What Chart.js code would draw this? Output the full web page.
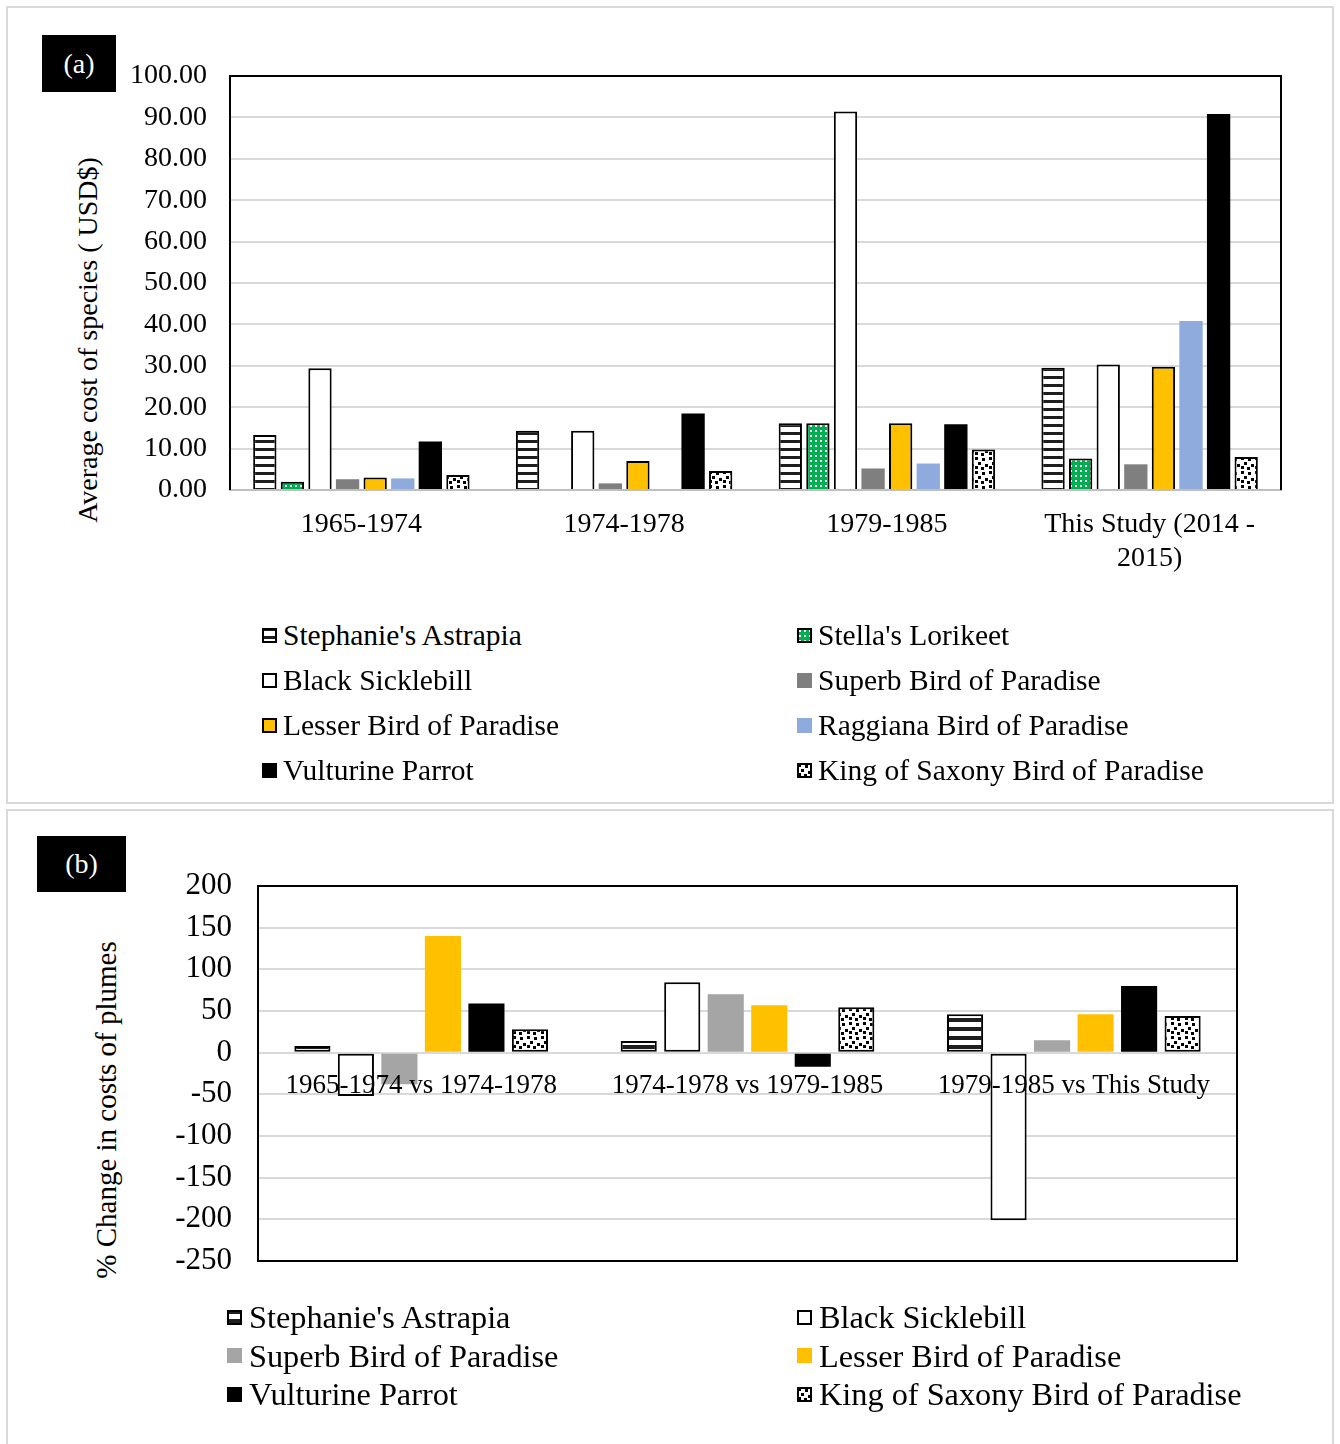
<!DOCTYPE html>
<html>
<head>
<meta charset="utf-8">
<script src="https://cdn.jsdelivr.net/npm/chart.js@4.4.1/dist/chart.umd.min.js"></script>
<style>
  body { margin: 0; background: #fff; font-family: 'Liberation Serif', 'Times New Roman', serif; color: #000; }
  #page { position: relative; width: 1340px; height: 1444px; overflow: hidden; }
  .panel { position: absolute; border: 2px solid #d9d9d9; box-sizing: border-box; }
  .tag { position: absolute; background: #000; color: #fff; display: flex; align-items: center; justify-content: center; }
  .ytitle { position: absolute; white-space: nowrap; transform: translate(-50%, -50%) rotate(-90deg); }
  canvas.chart { position: absolute; }
  .legend { position: absolute; display: grid; }
  .item { display: flex; align-items: center; white-space: nowrap; }
</style>
</head>
<body>
<div id="page">
  <div class="panel" style="left:6px;top:6px;width:1328px;height:798px;"></div>
  <div class="panel" style="left:6px;top:809px;width:1328px;height:650px;"></div>

  <div class="tag" style="left:42px;top:35px;width:74px;height:57px;font-size:28px;">(a)</div>
  <div class="tag" style="left:37px;top:836px;width:89px;height:56px;font-size:28px;">(b)</div>

  <div class="ytitle" style="left:88px;top:340px;font-size:28px;">Average cost of species ( USD$)</div>
  <div class="ytitle" style="left:106px;top:1110px;font-size:29px;">% Change in costs of plumes</div>

  <canvas id="costChart" class="chart" width="1324" height="600" style="left:8px;top:8px;"></canvas>
  <canvas id="changeChart" class="chart" width="1324" height="500" style="left:8px;top:811px;"></canvas>

  <div id="costLegend" class="legend" style="left:262px;top:613px;grid-template-columns:535px auto;font-size:29.5px;line-height:45px;"></div>
  <div id="changeLegend" class="legend" style="left:227px;top:1298px;grid-template-columns:570px auto;font-size:32.3px;line-height:38.5px;"></div>
</div>

<script>
// --- DATA: panel (a), average cost per period (USD$) ---
const periods = ['1965-1974', '1974-1978', '1979-1985', ['This Study (2014 -', '2015)']];
const costAstrapia   = [13.3, 14.3, 16.1, 29.5];
const costLorikeet   = [2.0, 0, 16.1, 7.6];
const costSicklebill = [29.4, 14.3, 91.4, 30.3];
const costSuperb     = [2.6, 1.6, 5.2, 6.2];
const costLesser     = [3.0, 7.0, 16.1, 29.8];
const costRaggiana   = [2.8, 0, 6.4, 40.8];
const costVulturine  = [11.7, 18.5, 15.9, 90.8];
const costKingSaxony = [3.6, 4.6, 9.8, 8.0];

// --- DATA: panel (b), % change between periods ---
const comparisons = ['1965-1974 vs 1974-1978', '1974-1978 vs 1979-1985', '1979-1985 vs This Study'];
const changeAstrapia   = [8, 14, 46];
const changeSicklebill = [-52, 84.5, -201];
const changeSuperb     = [-38, 70, 15];
const changeLesser     = [140, 57, 46];
const changeVulturine  = [59, -17, 80];
const changeKingSaxony = [28, 54.5, 44];

const SERIF = "'Liberation Serif', 'Times New Roman', serif";

// --- PATTERNS ---
function makeTile(w, h, draw) {
    const c = document.createElement('canvas');
    c.width = w; c.height = h;
    draw(c.getContext('2d'));
    return c;
}
function toPattern(tile) {
    return document.createElement('canvas').getContext('2d').createPattern(tile, 'repeat');
}
function stripes(period, dark) {
    return toPattern(makeTile(4, period, g => {
        g.fillStyle = '#fff'; g.fillRect(0, 0, 4, period);
        g.fillStyle = '#1e1e1e'; g.fillRect(0, 0, 4, dark);
    }));
}
const greenDots = toPattern(makeTile(5, 5, g => {
    g.fillStyle = '#00b050'; g.fillRect(0, 0, 5, 5);
    g.fillStyle = '#fff'; g.fillRect(2, 2, 2, 2);
}));
const blackSpeckle = toPattern(makeTile(14, 14, g => {
    g.fillStyle = '#fff'; g.fillRect(0, 0, 14, 14);
    g.fillStyle = '#000';
    [[1, 1], [8, 2], [4, 6], [11, 8], [1, 10], [7, 11]].forEach(p => g.fillRect(p[0], p[1], 3, 3));
}));

// --- DATASETS ---
const costSets = [
    { label: "Stephanie's Astrapia", data: costAstrapia, backgroundColor: stripes(8, 3), borderColor: '#000', borderWidth: 2 },
    { label: "Stella's Lorikeet", data: costLorikeet, backgroundColor: greenDots, borderColor: '#000', borderWidth: 2 },
    { label: 'Black Sicklebill', data: costSicklebill, backgroundColor: '#fff', borderColor: '#000', borderWidth: 2 },
    { label: 'Superb Bird of Paradise', data: costSuperb, backgroundColor: '#7f7f7f', borderWidth: 0 },
    { label: 'Lesser Bird of Paradise', data: costLesser, backgroundColor: '#ffc000', borderColor: '#000', borderWidth: 2 },
    { label: 'Raggiana Bird of Paradise', data: costRaggiana, backgroundColor: '#8faadc', borderWidth: 0 },
    { label: 'Vulturine Parrot', data: costVulturine, backgroundColor: '#000', borderWidth: 0 },
    { label: 'King of Saxony Bird of Paradise', data: costKingSaxony, backgroundColor: blackSpeckle, borderColor: '#000', borderWidth: 2 }
];

const changeSets = [
    { label: "Stephanie's Astrapia", data: changeAstrapia, backgroundColor: stripes(9, 4), borderColor: '#000', borderWidth: 2 },
    { label: 'Black Sicklebill', data: changeSicklebill, backgroundColor: '#fff', borderColor: '#000', borderWidth: 2 },
    { label: 'Superb Bird of Paradise', data: changeSuperb, backgroundColor: '#a5a5a5', borderWidth: 0 },
    { label: 'Lesser Bird of Paradise', data: changeLesser, backgroundColor: '#ffc000', borderWidth: 0 },
    { label: 'Vulturine Parrot', data: changeVulturine, backgroundColor: '#000', borderWidth: 0 },
    { label: 'King of Saxony Bird of Paradise', data: changeKingSaxony, backgroundColor: blackSpeckle, borderColor: '#000', borderWidth: 2 }
];

// black outline round the plot area
const plotFrame = {
    id: 'plotFrame',
    beforeDatasetsDraw(chart, args, opts) {
        const { ctx, chartArea: a } = chart;
        ctx.save();
        ctx.strokeStyle = '#000';
        ctx.lineWidth = 2;
        ctx.beginPath();
        ctx.moveTo(a.left, a.bottom);
        ctx.lineTo(a.left, a.top);
        ctx.lineTo(a.right, a.top);
        ctx.lineTo(a.right, a.bottom);
        if (opts.closed) ctx.closePath();
        ctx.stroke();
        ctx.restore();
    }
};

// --- PANEL (a) ---
const costChart = new Chart(document.getElementById('costChart'), {
    type: 'bar',
    data: { labels: periods, datasets: costSets },
    options: {
        responsive: false,
        animation: false,
        layout: { padding: { top: 68, right: 51, bottom: 0, left: 0 } },
        datasets: { bar: { categoryPercentage: 0.84, barPercentage: 0.845 } },
        plugins: { legend: { display: false }, tooltip: { enabled: false }, plotFrame: { closed: false } },
        scales: {
            x: {
                grid: { display: false },
                border: { color: '#bfbfbf', width: 2 },
                ticks: { color: '#000', font: { family: SERIF, size: 28 }, padding: 10, autoSkip: false, maxRotation: 0 },
                afterFit: s => { s.height = 118; }
            },
            y: {
                min: 0, max: 100,
                grid: { color: '#d9d9d9', lineWidth: 2, drawTicks: false },
                border: { display: false },
                ticks: { stepSize: 10, padding: 23, color: '#000', font: { family: SERIF, size: 28 }, callback: v => v.toFixed(2) },
                afterFit: s => { s.width = 222; }
            }
        }
    },
    plugins: [plotFrame]
});

// --- PANEL (b) ---
const changeChart = new Chart(document.getElementById('changeChart'), {
    type: 'bar',
    data: { labels: comparisons, datasets: changeSets },
    options: {
        responsive: false,
        animation: false,
        layout: { padding: { top: 75, right: 95, bottom: 50, left: 0 } },
        datasets: { bar: { categoryPercentage: 0.8, barPercentage: 0.83, borderSkipped: false } },
        plugins: { legend: { display: false }, tooltip: { enabled: false }, plotFrame: { closed: true } },
        scales: {
            x: {
                position: { y: 0 },
                grid: { display: false },
                border: { display: false },
                ticks: { z: 1, color: '#000', font: { family: SERIF, size: 27 }, padding: 9, autoSkip: false, maxRotation: 0 },
                afterFit: s => { s.height = 0; }
            },
            y: {
                min: -250, max: 200,
                grid: { color: '#d9d9d9', lineWidth: 2, drawTicks: false },
                border: { display: false },
                ticks: { stepSize: 50, padding: 26, color: '#000', font: { family: SERIF, size: 31 } },
                afterFit: s => { s.width = 250; }
            }
        }
    },
    plugins: [plotFrame]
});

// --- HTML LEGENDS ---
function buildLegend(chart, containerId, gap) {
    const box = document.getElementById(containerId);
    chart.data.datasets.forEach(ds => {
        const item = document.createElement('div');
        item.className = 'item';
        const sw = document.createElement('canvas');
        sw.width = 15; sw.height = 15;
        sw.style.marginRight = gap + 'px';
        const g = sw.getContext('2d');
        g.fillStyle = ds.backgroundColor;
        g.fillRect(0, 0, 15, 15);
        if (ds.borderWidth) {
            g.strokeStyle = '#000';
            g.lineWidth = 2;
            g.strokeRect(1, 1, 13, 13);
        }
        const text = document.createElement('span');
        text.textContent = ds.label;
        item.appendChild(sw);
        item.appendChild(text);
        box.appendChild(item);
    });
}
buildLegend(costChart, 'costLegend', 6);
buildLegend(changeChart, 'changeLegend', 7);
</script>
</body>
</html>
